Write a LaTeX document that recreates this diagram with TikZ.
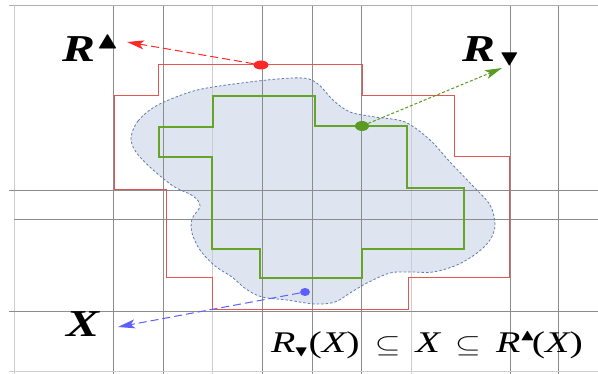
\documentclass[tikz,border=0pt]{standalone}
\usepackage{fontspec}
\setmainfont{Liberation Serif}
\usepackage{amssymb}
\usetikzlibrary{arrows.meta,shapes.geometric}

\definecolor{gridD}{RGB}{140,140,140}
\definecolor{gridM}{RGB}{175,175,175}
\definecolor{gridL}{RGB}{205,205,205}
\definecolor{upred}{RGB}{225,85,85}
\definecolor{lowgreen}{RGB}{100,165,40}
\definecolor{blobfill}{RGB}{222,229,241}
\definecolor{blobline}{RGB}{95,125,170}
\definecolor{dotred}{RGB}{255,40,40}
\definecolor{dotgreen}{RGB}{90,155,35}
\definecolor{dotblue}{RGB}{95,95,255}

\begin{document}
\begin{tikzpicture}[x=1pt,y=-1pt,
  gd/.style={gridD,line width=0.9pt},
  gm/.style={gridM,line width=0.9pt},
  gl/.style={gridL,line width=0.9pt},
  upper/.style={upred,line width=1pt,line join=miter},
  lower/.style={lowgreen,line width=1.9pt,line join=miter},
  blobedge/.style={blobline,line width=0.8pt,dash pattern=on 2.5pt off 2pt},
  dotnode/.style={ellipse,inner sep=0pt,minimum width=15pt,minimum height=9pt},
  redarr/.style={dotred,line width=1pt,dash pattern=on 8pt off 4pt,-{Stealth[length=17pt,width=9pt,inset=4pt]}},
  greenarr/.style={dotgreen,line width=1pt,dash pattern=on 3pt off 2pt,-{Stealth[length=17pt,width=9pt,inset=4pt]}},
  bluearr/.style={dotblue,line width=1pt,dash pattern=on 8pt off 4pt,-{Stealth[length=17pt,width=9pt,inset=4pt]}},
  lbl/.style={inner sep=0pt,font=\fontsize{38}{38}\selectfont\bfseries\itshape},
  frm/.style={inner sep=0pt,font=\fontsize{30}{30}\selectfont}
]
\useasboundingbox (0,0) rectangle (598,374);
\fill[white] (0,0) rectangle (598,374);

% region X (fill)
\fill[blobfill] plot[smooth cycle, tension=0.55] coordinates {
 (131,138) (138,121) (156,106) (187,93) (213,87) (267,80) (303,78) (318,84)
 (333,100) (350,112) (375,117) (405,122) (430,140) (450,162) (472,185)
 (490,205) (495,225) (490,240) (477,253) (457,265) (433,272) (410,272)
 (390,273) (367,283) (350,293) (335,302) (315,304) (287,300) (262,297)
 (246,289) (232,277) (215,266) (200,250) (192,233) (192,219) (200,206)
 (193,196) (173,186) (151,168) (136,152)};

% grid
\foreach \x in {14,212,411} \draw[gl] (\x,5) -- (\x,374);
\foreach \x in {113,163,262,312,361,510,558} \draw[gd] (\x,5) -- (\x,374);
\draw[gm] (9,5) -- (598,5);
\draw[gd] (9,190) -- (598,190);
\draw[gd] (14,219) -- (598,219);
\draw[gd] (9,311) -- (598,311);
\draw[gl] (9,371) -- (598,371);

% upper approximation
\draw[upper] (158,65) -- (362,65) -- (362,96) -- (454,96) -- (454,157) -- (509,157)
  -- (509,278) -- (408,278) -- (408,310) -- (212,310) -- (212,278) -- (166,278)
  -- (166,190) -- (114,190) -- (114,96) -- (158,96) -- cycle;

% lower approximation
\draw[lower] (213,96) -- (315,96) -- (315,126) -- (407,126) -- (407,188) -- (464,188)
  -- (464,249) -- (362,249) -- (362,278) -- (260,278) -- (260,249) -- (212,249)
  -- (212,157) -- (159,157) -- (159,127) -- (213,127) -- cycle;

% region X (outline)
\draw[blobedge] plot[smooth cycle, tension=0.55] coordinates {
 (131,138) (138,121) (156,106) (187,93) (213,87) (267,80) (303,78) (318,84)
 (333,100) (350,112) (375,117) (405,122) (430,140) (450,162) (472,185)
 (490,205) (495,225) (490,240) (477,253) (457,265) (433,272) (410,272)
 (390,273) (367,283) (350,293) (335,302) (315,304) (287,300) (262,297)
 (246,289) (232,277) (215,266) (200,250) (192,233) (192,219) (200,206)
 (193,196) (173,186) (151,168) (136,152)};

% dots
\node[dotnode,fill=dotred] (rd) at (261,65) {};
\node[dotnode,fill=dotgreen,minimum width=14pt,minimum height=10pt] (gdot) at (362,126) {};
\node[dotnode,fill=dotblue,minimum width=10pt,minimum height=8pt] (bd) at (305,292) {};

% arrow end points
\coordinate (rtip) at (127,42);
\coordinate (gtip) at (502,68);
\coordinate (btip) at (118,327);

\draw[redarr] (rd) -- (rtip);
\draw[greenarr] (gdot) -- (gtip);
\draw[bluearr] (bd) -- (btip);

% labels
\node[lbl,anchor=base west] (Rup) at (62,62)
  {\scalebox{1.3}[1]{R\hspace{1pt}\raisebox{13pt}{\fontsize{24}{24}\selectfont$\blacktriangle$}}};
\node[lbl,anchor=base west] (Rdown) at (462,62)
  {\scalebox{1.3}[1]{R\hspace{3pt}\raisebox{-4pt}{\fontsize{22}{22}\selectfont$\blacktriangledown$}}};
\node[lbl,anchor=base west] (Xl) at (66,337) {\scalebox{1.3}[1]{X}};

\node[frm,anchor=base west] (law) at (271,353)
  {\scalebox{1.33}[1]{\itshape R\hspace{-1pt}\raisebox{-4pt}{\fontsize{15}{15}\selectfont$\blacktriangledown$}\upshape(\itshape X\upshape)\hspace{0.38em}$\subseteq$\hspace{0.38em}\itshape X\upshape\hspace{0.38em}$\subseteq$\hspace{0.38em}\itshape R\hspace{-0.5pt}\raisebox{12pt}{\fontsize{16}{16}\selectfont$\blacktriangle$}\hspace{-2.5pt}\upshape(\itshape X\upshape)}};
\end{tikzpicture}
\end{document}
